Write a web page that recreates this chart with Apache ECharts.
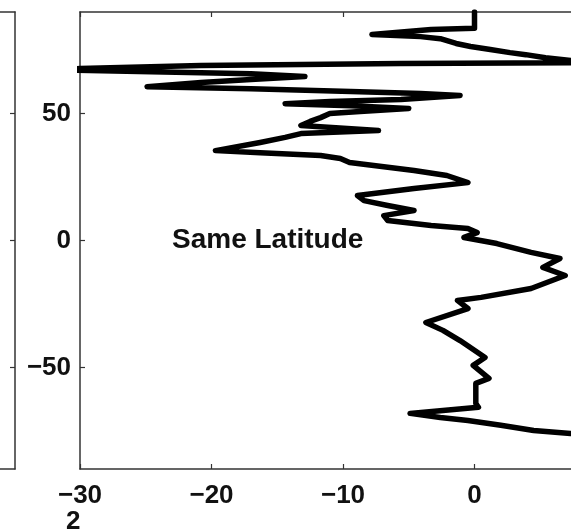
<!DOCTYPE html>
<html>
<head>
<meta charset="utf-8">
<script src="https://cdn.jsdelivr.net/npm/echarts@6/dist/echarts.min.js"></script>
<style>html,body{margin:0;padding:0;background:#fff}#c{width:571px;height:530px}</style>
</head>
<body>
<div id="c"></div>
<script>
// Latitude (deg) and difference values, top to bottom
var latitudes = [90, 83.6, 83.1, 81.1, 80.3, 79.5, 77.6, 76.4, 75.2, 74.0, 73.2, 72.0, 70.9, 70.1,
  69.7, 68.9, 67.7, 67.3, 66.5, 65.7, 64.6, 63.4, 62.2, 60.6, 59.8, 58.7, 57.9, 57.1,
  55.5, 54.7, 53.9, 53.1, 52.0, 50.8, 50.0, 48.4, 46.9, 45.3, 43.3, 42.1, 40.6, 38.6,
  35.4, 34.6, 33.5, 32.3, 30.7, 27.6, 25.6, 22.8, 20.5, 17.7, 15.7, 13.8, 11.8, 9.8,
  7.9, 5.9, 4.7, 3.1, 1.2, -1.2, -4.7, -7.1, -10.6, -13.8, -18.9, -22.4, -23.6, -26.8,
  -32.3, -35.4, -39.4, -46.1, -49.2, -54.3, -56.3, -64.2, -65.7, -68.1, -69.7, -70.9,
  -72.8, -74.8, -76.0, -76.8, -90];
var values = [0, 0, -3.3, -7.8, -4.1, -2.6, -1.4, -0.3, 1.2, 2.7, 3.9, 5.4, 7.4, 9.6,
  -5.6, -20.8, -30, -33, -24.6, -17, -12.9, -17, -20.8, -24.9, -17, -9.4, -4.1, -1.1,
  -5.6, -11, -14.4, -9.4, -5, -8.7, -11, -11.7, -12.5, -13.2, -7.3, -13.2, -14.4, -16.3,
  -19.7, -16.3, -11.7, -10.2, -9.5, -4.6, -2.1, -0.5, -4.6, -8.9, -8.4, -6.6, -4.6, -6.9,
  -6.6, -3.3, -0.5, 0.2, -0.8, 1.7, 4.3, 6.5, 5.2, 6.9, 4.3, 0.5, -1.3, -0.5,
  -3.7, -2.4, -1.1, 0.8, -0.1, 1.1, 0.1, 0.1, 0.3, -4.9, -2.6, -0.5,
  2, 4.5, 7.3, 9.6, 10];
var xTicks = [-30, -20, -10, 0, 10];
var yTicks = [-50, 0, 50];
var annotation = 'Same Latitude';
var panelLabel = '2';

// use a narrow bold face if the machine has one
function hasFont(name) {
  var c = document.createElement('canvas').getContext('2d');
  var s = 'Same Latitude 0123456789';
  c.font = 'bold 40px monospace';
  var w0 = c.measureText(s).width;
  c.font = 'bold 40px "' + name + '", monospace';
  return Math.abs(c.measureText(s).width - w0) > 1;
}
var narrow = hasFont('Liberation Sans Narrow');
var font = narrow ? '"Liberation Sans Narrow", "Liberation Sans", sans-serif' : '"Liberation Sans", Arial, sans-serif';
var tickSize = narrow ? 30 : 26;
var noteSize = narrow ? 33 : 28;

var pts = values.map(function (v, i) { return [v, latitudes[i]]; });
var axLine = { show: true, onZero: false, lineStyle: { color: '#333', width: 1.5 } };
var minusFmt = function (v) { return String(v).replace('-', '\u2212'); };
function ticks(vals) {
  return { show: true, inside: true, length: 5, customValues: vals, lineStyle: { color: '#333', width: 1.2 } };
}

var chart = echarts.init(document.getElementById('c'));
chart.setOption({
  animation: false,
  backgroundColor: '#fff',
  grid: [
    { left: 80, top: 12, width: 526, height: 457, containLabel: false, outerBoundsMode: 'none' },
    { left: -200, top: 12, width: 215, height: 457, containLabel: false, outerBoundsMode: 'none' }
  ],
  xAxis: [
    { gridIndex: 0, type: 'value', min: -30, max: 10, position: 'bottom',
      axisLine: axLine, axisTick: ticks(xTicks), splitLine: { show: false },
      axisLabel: { show: true, customValues: xTicks, margin: 14, color: '#111', fontSize: tickSize, fontWeight: 'bold', fontFamily: font, formatter: minusFmt } },
    { gridIndex: 0, type: 'value', min: -30, max: 10, position: 'top',
      axisLine: axLine, axisTick: ticks(xTicks), splitLine: { show: false }, axisLabel: { show: false } },
    { gridIndex: 1, type: 'value', min: 0, max: 10, position: 'bottom',
      axisLine: axLine, axisTick: { show: false }, splitLine: { show: false }, axisLabel: { show: false } },
    { gridIndex: 1, type: 'value', min: 0, max: 10, position: 'top',
      axisLine: axLine, axisTick: { show: false }, splitLine: { show: false }, axisLabel: { show: false } }
  ],
  yAxis: [
    { gridIndex: 0, type: 'value', min: -90, max: 90, position: 'left',
      axisLine: axLine, axisTick: ticks(yTicks), splitLine: { show: false },
      axisLabel: { show: true, customValues: yTicks, margin: 9, color: '#111', fontSize: tickSize, fontWeight: 'bold', fontFamily: font, formatter: minusFmt } },
    { gridIndex: 1, type: 'value', min: -90, max: 90, position: 'right',
      axisLine: axLine, axisTick: ticks(yTicks), splitLine: { show: false }, axisLabel: { show: false } }
  ],
  series: [{
    type: 'line', xAxisIndex: 0, yAxisIndex: 0, data: pts, showSymbol: false, symbol: 'none',
    clip: true, lineStyle: { color: '#000', width: 5.5, join: 'round', cap: 'round' }
  }],
  graphic: [
    { type: 'text', left: 172, top: narrow ? 223 : 226, style: { text: annotation, fontSize: noteSize, fontWeight: 'bold', fontFamily: font, fill: '#111' } },
    { type: 'text', left: 66, top: 509, style: { text: panelLabel, fontSize: tickSize, fontWeight: 'bold', fontFamily: font, fill: '#111' } }
  ]
});
</script>
</body>
</html>
